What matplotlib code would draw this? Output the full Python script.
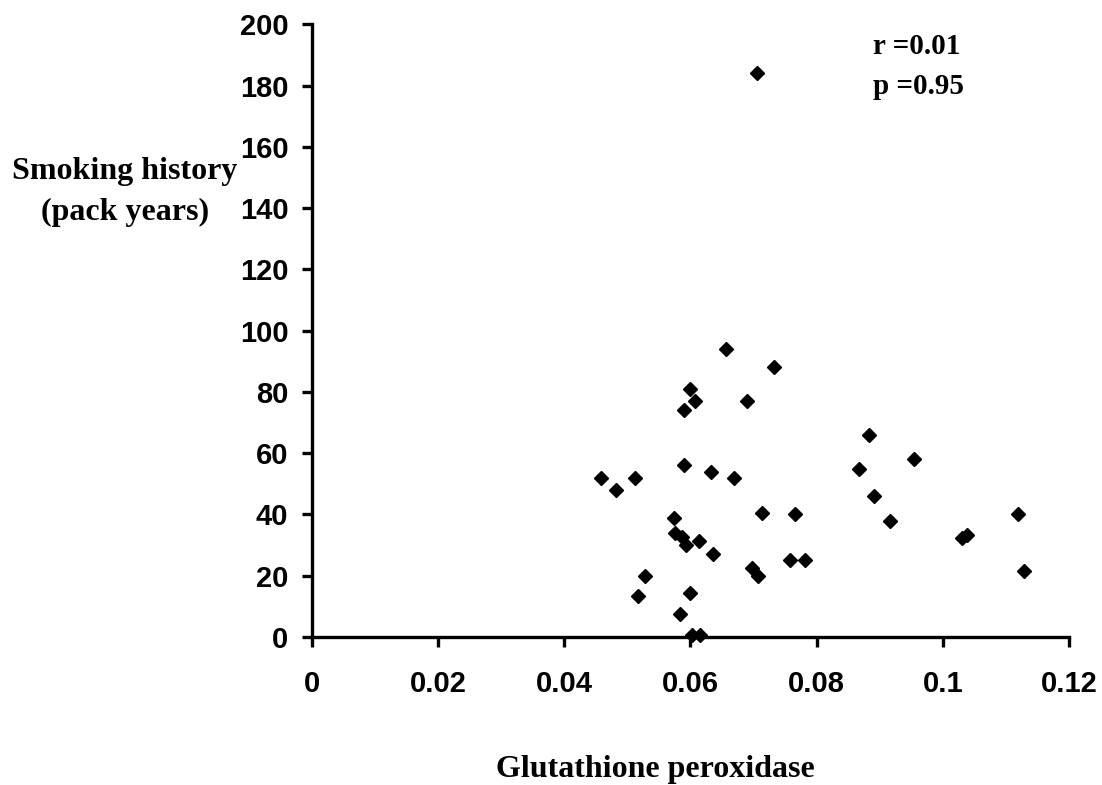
import matplotlib
matplotlib.use("Agg")
import matplotlib.pyplot as plt

# Glutathione peroxidase vs smoking history (pack years)
gpx = [0.0657, 0.0732, 0.0599, 0.0607, 0.0590, 0.0690, 0.0590, 0.0633,
       0.0669, 0.0459, 0.0482, 0.0512, 0.0574, 0.0714, 0.0766, 0.0575,
       0.0586, 0.0593, 0.0614, 0.0636, 0.0758, 0.0782, 0.0698, 0.0707,
       0.0528, 0.0517, 0.0599, 0.0583, 0.0602, 0.0616,
       0.0883, 0.0955, 0.0868, 0.0891, 0.0916, 0.1030, 0.1039, 0.1119,
       0.1129, 0.0705]
pack_years = [94, 88, 81, 77, 74, 77, 56, 54,
              52, 52, 48, 52, 39, 40.5, 40, 34,
              32.5, 30, 31.5, 27, 25, 25, 22.5, 20,
              20, 13.5, 14.3, 7.5, 0.5, 0.5,
              66, 58, 55, 46, 38, 32.2, 33.3, 40,
              21.6, 184]

xticks = [0, 0.02, 0.04, 0.06, 0.08, 0.1, 0.12]
xticklabels = ["0", "0.02", "0.04", "0.06", "0.08", "0.1", "0.12"]
yticks = list(range(0, 201, 20))

fig = plt.figure(figsize=(11.02, 7.85), dpi=100)
ax = fig.add_axes([0.283, 0.1885, 0.687, 0.7805])

ax.plot(gpx, pack_years, linestyle="none", marker="D", markersize=7.5,
        color="black", clip_on=False)

ax.set_xlim(0, 0.12)
ax.set_ylim(0, 200)
ax.set_xticks(xticks)
ax.set_xticklabels(xticklabels)
ax.set_yticks(yticks)

for s in ["top", "right"]:
    ax.spines[s].set_visible(False)
for s in ["left", "bottom"]:
    ax.spines[s].set_linewidth(2.4)

ax.tick_params(direction="out", length=7, width=2.4, labelsize=21)
for lab in ax.get_xticklabels() + ax.get_yticklabels():
    lab.set_fontweight("bold")
    lab.set_family("Liberation Sans")
ax.tick_params(axis="x", pad=17)
ax.tick_params(axis="y", pad=10)

serif = dict(family="Liberation Serif", fontweight="bold", fontsize=23)
fig.text(125 / 1102, 1 - 172 / 785, "Smoking history", ha="center", va="center", **serif)
fig.text(125 / 1102, 1 - 212 / 785, "(pack years)", ha="center", va="center", **serif)
fig.text(655 / 1102, 1 - 770 / 785, "Glutathione peroxidase", ha="center", va="center", **serif)

stats = dict(family="Liberation Serif", fontweight="bold", fontsize=21)
fig.text(873 / 1102, 1 - 46 / 785, "r =0.01", ha="left", va="center", **stats)
fig.text(873 / 1102, 1 - 86 / 785, "p =0.95", ha="left", va="center", **stats)

fig.savefig("out.png", dpi=100)
